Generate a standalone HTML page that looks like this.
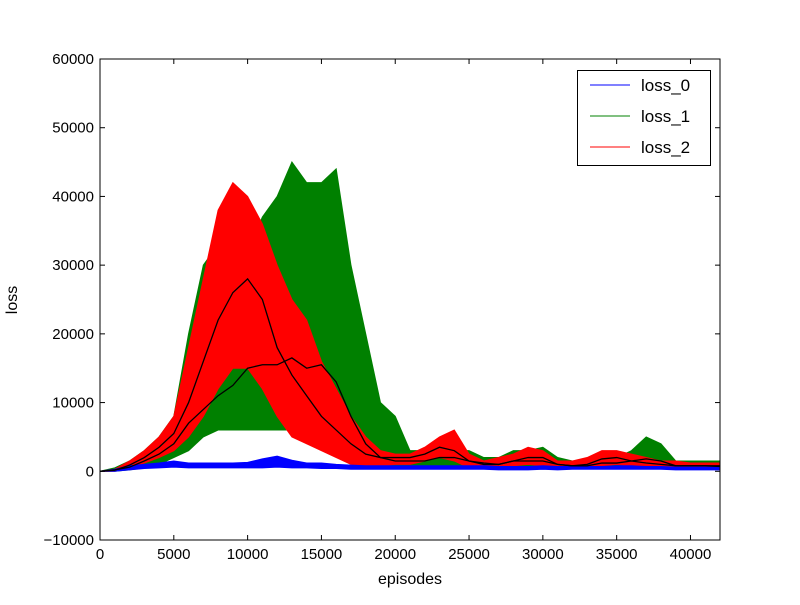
<!DOCTYPE html>
<html><head><meta charset="utf-8"><style>
body{margin:0;background:#fff}
svg text{font-family:"Liberation Sans","DejaVu Sans",sans-serif;fill:#000}
</style></head><body>
<svg id="chart" width="800" height="600">
<rect width="800" height="600" fill="#fff"/>
<g id="marks"></g>
<g id="axes"></g>
</svg>
<script>
const episodes=[0,1000,2000,3000,4000,5000,6000,7000,8000,9000,10000,11000,12000,13000,14000,15000,16000,17000,18000,19000,20000,21000,22000,23000,24000,25000,26000,27000,28000,29000,30000,31000,32000,33000,34000,35000,36000,37000,38000,39000,40000,41000,42000];
const loss1High=[0,500,1500,3000,5000,8000,20000,30000,33000,30000,32000,37000,40000,45000,42000,42000,44000,30000,20000,10000,8000,3000,3000,3500,3000,3000,2000,2000,3000,3000,3500,2000,1500,1500,2000,2000,3000,5000,4000,1500,1500,1500,1500];
const loss1Low=[0,0,200,500,1000,2000,3000,5000,6000,6000,6000,6000,6000,6000,6500,6000,5000,3000,1000,500,500,500,500,500,500,500,500,400,400,400,500,400,400,400,400,500,500,500,400,400,400,400,400];
const loss1Mean=[0,200,600,1500,2500,4000,7000,9000,11000,12500,15000,15500,15500,16500,15000,15500,13000,8000,4000,2000,1500,1500,1500,2000,2000,1500,1200,1000,1500,1500,1500,1000,800,800,1200,1200,1500,1800,1500,800,800,800,700];
const loss2High=[0,300,1500,3000,5000,8000,18000,28000,38000,42000,40000,36000,30000,25000,22000,16000,12000,8000,5000,3000,2500,2500,3500,5000,6000,2500,1500,2000,2500,3500,3000,1500,1500,2000,3000,3000,2500,2000,1500,1500,1200,1200,1200];
const loss2Low=[0,0,500,1200,2000,3000,5000,8000,12000,15000,15000,12000,8000,5000,4000,3000,2000,1000,800,800,1000,1000,1500,2000,1500,500,500,500,800,1000,800,500,500,500,800,1000,800,600,500,500,500,500,500];
const loss2Mean=[0,150,900,2000,3500,5500,10000,16000,22000,26000,28000,25000,18000,14000,11000,8000,6000,4000,2500,2000,2000,2000,2500,3500,3000,1500,1000,1000,1500,2000,2000,1000,800,1000,1800,2000,1500,1200,1000,800,800,800,800];
const loss0High=[0,300,800,1000,1200,1500,1200,1200,1200,1200,1300,1800,2200,1600,1200,1200,1000,900,800,800,800,800,800,800,800,800,800,700,700,700,800,700,700,700,700,800,800,700,700,600,600,600,600];
const loss0Low=[0,0,200,400,500,600,500,500,500,500,500,500,600,500,500,400,400,300,300,300,300,300,300,300,300,300,300,200,200,200,300,200,300,300,300,300,300,300,300,200,200,200,200];
const xTicks=[0,5000,10000,15000,20000,25000,30000,35000,40000];
const yTicks=[-10000,0,10000,20000,30000,40000,50000,60000];
const yTickLabels=["\u221210000","0","10000","20000","30000","40000","50000","60000"];

const L=100,R=720,T=59,B=540;
const xs=v=>L+v/42000*(R-L);
const ys=v=>B-(v+10000)/70000*(B-T);
const NS="http://www.w3.org/2000/svg";
const marks=document.getElementById('marks'),axes=document.getElementById('axes');
function mk(tag,attrs,parent){const e=document.createElementNS(NS,tag);for(const k in attrs)e.setAttribute(k,attrs[k]);parent.appendChild(e);return e;}
function band(hi,lo,color,name){
  let pts=episodes.map((e,i)=>xs(e)+','+ys(hi[i]));
  for(let i=episodes.length-1;i>=0;i--)pts.push(xs(episodes[i])+','+ys(lo[i]));
  const p=mk('polygon',{points:pts.join(' '),fill:color,stroke:color,'stroke-width':1},marks);
  
  
}
function line(arr,color,name){
  const p=mk('polyline',{points:episodes.map((e,i)=>xs(e)+','+ys(arr[i])).join(' '),fill:'none',stroke:color,'stroke-width':1.3},marks);
  
  
}
band(loss1High,loss1Low,'#008000','loss-1-series');
band(loss2High,loss2Low,'#ff0000','loss-2-series');
band(loss0High,loss0Low,'#0000ff','loss-0-series');
line(loss1Mean,'#000','loss-1-mean');
line(loss2Mean,'#000','loss-2-mean');

const frame=mk('rect',{x:L,y:T,width:R-L,height:B-T,fill:'none',stroke:'#000','stroke-width':1},axes);


xTicks.forEach(v=>{
  const x=xs(v);
  mk('line',{x1:x,x2:x,y1:B,y2:B-5,stroke:'#000'},axes);
  mk('line',{x1:x,x2:x,y1:T,y2:T+5,stroke:'#000'},axes);
  const t=mk('text',{x:x,y:B+19,'text-anchor':'middle','font-size':15},axes);
  t.textContent=v;
  
  
});
yTicks.forEach((v,i)=>{
  const y=ys(v);
  mk('line',{x1:L,x2:L+5,y1:y,y2:y,stroke:'#000'},axes);
  mk('line',{x1:R,x2:R-5,y1:y,y2:y,stroke:'#000'},axes);
  const t=mk('text',{x:L-6,y:y+5,'text-anchor':'end','font-size':15},axes);
  t.textContent=yTickLabels[i];
  
  
});
</script>
<svg style="position:absolute;left:0;top:0" width="800" height="600">
<text x="410" y="584" text-anchor="middle" font-size="16">episodes</text>
<text x="17" y="300" text-anchor="middle" font-size="16" transform="rotate(-90 17 300)">loss</text>
<g>
<rect x="577.5" y="70.5" width="133" height="95" fill="#fff" stroke="#000"/>
<line x1="590" x2="630" y1="85" y2="85" stroke="#0000ff"/>
<text x="641" y="91" font-size="17">loss_0</text>
<line x1="590" x2="630" y1="116" y2="116" stroke="#008000"/>
<text x="641" y="122" font-size="17">loss_1</text>
<line x1="590" x2="630" y1="147" y2="147" stroke="#ff0000"/>
<text x="641" y="153" font-size="17">loss_2</text>
</g>
</svg>
</body></html>
